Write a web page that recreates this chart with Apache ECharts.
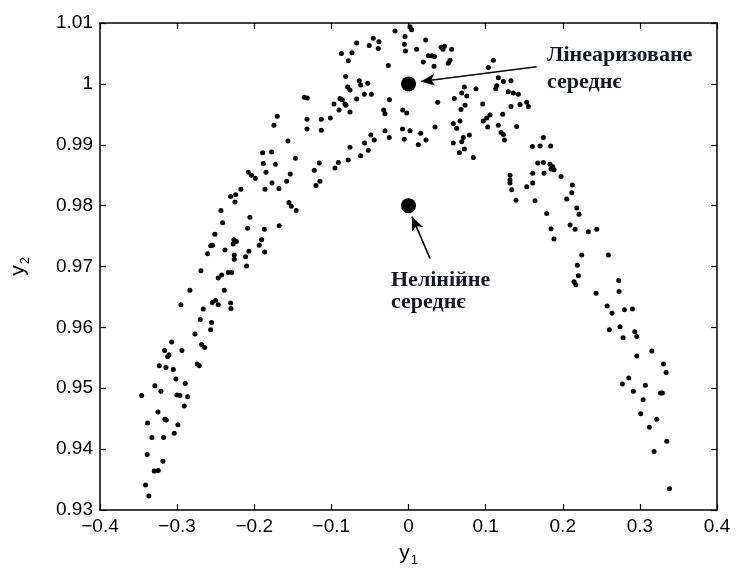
<!DOCTYPE html>
<html>
<head>
<meta charset="utf-8">
<script src="https://cdn.jsdelivr.net/npm/echarts@6/dist/echarts.min.js"></script>
<style>html,body{margin:0;padding:0;background:#fff}#c{width:737px;height:572px}</style>
</head>
<body>
<div id="c"></div>
<script>
// ---- data ----
const y1Values = [
-0.346,-0.3383,-0.3327,-0.3388,-0.3409,-0.3366,-0.3297,-0.3245,-0.3184,-0.3175,
-0.3249,-0.3158,-0.3141,-0.3038,-0.299,-0.3288,-0.321,-0.3232,-0.3145,-0.3162,
-0.3123,-0.3106,-0.3071,-0.305,-0.3016,-0.3003,-0.2964,-0.2895,-0.2864,-0.2908,
-0.2938,-0.2951,-0.2834,-0.2769,-0.2739,-0.2713,-0.2682,-0.2643,-0.27,-0.2661,
-0.2691,-0.2565,-0.2553,-0.2545,-0.2501,-0.2467,-0.2389,-0.2306,-0.2302,-0.2467,
-0.2423,-0.2337,-0.2293,-0.2604,-0.238,-0.2259,-0.2259,-0.2112,-0.2099,-0.2069,
-0.1865,-0.2565,-0.254,-0.251,-0.241,-0.2432,-0.2263,-0.2231,-0.2272,-0.2056,
-0.2086,-0.1904,-0.1935,-0.1868,-0.1676,-0.2306,-0.2241,-0.225,-0.2173,-0.2075,
-0.2036,-0.1987,-0.1861,-0.1883,-0.1891,-0.1774,-0.1725,-0.1848,-0.177,-0.168,
-0.158,-0.1533,-0.1466,-0.1563,-0.155,-0.152,-0.1457,-0.1744,-0.1702,-0.1351,
-0.1313,-0.1316,-0.1316,-0.1131,-0.1131,-0.1014,-0.0966,-0.0901,-0.0888,-0.0859,
-0.0824,-0.0811,-0.0759,-0.0672,-0.0815,-0.0789,-0.0759,-0.0638,-0.062,-0.0529,
-0.0573,-0.0482,-0.1222,-0.1157,-0.12,-0.1148,-0.0953,-0.091,-0.0782,-0.0759,
-0.062,-0.0569,-0.0521,-0.0489,-0.0444,-0.0305,-0.025,-0.0322,-0.0305,-0.0246,
-0.0262,-0.087,-0.0733,-0.0781,-0.0672,-0.051,-0.0457,-0.0383,-0.0392,-0.0175,
-0.0045,-0.0054,-0.0039,-0.0078,-0.0054,-0.0075,-0.0023,0.0019,
0.0019,0.0041,0.0223,0.0106,0.0422,0.0447,0.0467,0.056,0.0257,0.0301,
0.0335,0.0192,0.0331,0.0538,0.0516,0.11,0.1035,0.1165,0.123,0.1329,
0.0724,0.0875,0.1131,0.1144,0.069,0.0755,0.0594,0.0379,0.0962,0.0733,
0.0681,0.1294,0.1359,0.1424,0.1446,0.1329,0.1533,0.1554,0.1222,0.1057,
0.1014,0.097,0.1165,0.1027,0.0668,0.0581,0.0625,0.0344,0.1403,0.12,
0.123,0.0789,0.0711,0.069,0.0581,0.0724,0.0659,0.084,0.0158,0.0227,
0.0127,0.1243,
0.1748,0.1606,0.1706,0.1844,0.1676,0.1748,0.1835,0.187,0.1887,0.1611,
0.1757,0.1848,0.1978,0.1316,0.1316,0.1316,0.1339,0.1533,0.1611,0.1394,
0.1641,0.2125,0.2117,0.2052,0.1792,0.2182,0.2211,0.1848,0.1887,0.2095,
0.216,0.2332,0.2441,0.2246,0.2591,0.2189,0.2202,0.2147,0.2169,0.2432,
0.2726,0.273,0.2575,0.2639,0.2799,0.2903,0.2604,0.2743,0.2782,0.2934,
0.296,0.3154,0.296,0.3305,0.334,0.2856,0.2773,0.3071,0.2916,0.3292,
0.3268,0.3042,0.3012,0.3123,0.3219,0.3349,0.3184,0.3383
];
const y2Values = [
0.9488,0.9443,0.9419,0.9391,0.9341,0.9323,0.9364,0.9365,0.938,0.9419,
0.9461,0.9449,0.9448,0.9426,0.944,0.9504,0.9495,0.9537,0.9534,0.9562,
0.9552,0.9555,0.9576,0.9531,0.9515,0.9489,0.9488,0.9508,0.9486,0.9471,
0.9562,0.9637,0.9661,0.9589,0.954,0.9537,0.9572,0.9567,0.9613,0.963,
0.9693,0.9596,0.9608,0.9641,0.9644,0.9637,0.9661,0.964,0.9631,0.9681,
0.9686,0.969,0.969,0.9721,0.9727,0.9719,0.9712,0.9716,0.9701,0.9725,
0.9724,0.9734,0.9735,0.9753,0.9772,0.9792,0.9744,0.9741,0.9737,0.9781,
0.9763,0.9744,0.9735,0.9761,0.9767,0.9815,0.9818,0.9806,0.9827,0.9855,
0.985,0.9845,0.9827,0.9869,0.9887,0.9888,0.9868,0.9855,0.9837,0.9828,
0.984,0.9852,0.9878,0.9906,0.9805,0.9799,0.9792,0.9932,0.9947,0.9978,
0.9977,0.9942,0.9926,0.9942,0.9924,0.9944,0.9967,0.9957,0.9976,0.9974,
0.9967,0.9965,0.9954,0.9975,1.0012,0.9995,0.999,1.0005,0.9998,1.0001,
0.9983,0.9983,0.9858,0.987,0.9833,0.984,0.9862,0.9871,0.9875,0.9896,
0.9882,0.9903,0.9891,0.9916,0.9908,0.9923,0.9912,0.9957,0.9951,0.9974,
1.003,1.005,1.0051,1.0038,1.0067,1.0063,1.0075,1.0069,1.0058,1.0087,
1.0078,1.0065,1.0054,0.9926,0.9909,0.9957,0.9952,0.9923,
1.0094,1.0089,1.0072,1.0057,1.006,1.0057,1.0062,1.0057,1.0046,1.0046,
1.0045,1.0036,1.0029,1.0039,1.0034,1.0039,1.0027,1.001,1.0004,1.0005,
0.9995,0.9992,0.9992,0.9997,0.9985,0.998,0.9976,0.997,0.9967,0.9965,
0.9958,0.9987,0.9985,0.9983,0.9966,0.9963,0.997,0.9963,0.995,0.9949,
0.9944,0.9939,0.9932,0.9929,0.9939,0.9935,0.9927,0.9929,0.993,0.992,
0.9917,0.9916,0.9912,0.9905,0.9903,0.9893,0.9887,0.9879,0.9919,0.9908,
0.99,0.9908,
0.9912,0.9897,0.9898,0.9898,0.987,0.9871,0.9868,0.9864,0.9859,0.9853,
0.9853,0.986,0.9848,0.985,0.9842,0.9837,0.9826,0.9831,0.9837,0.9809,
0.9808,0.9834,0.9821,0.9811,0.9787,0.9796,0.9786,0.9762,0.9745,0.9768,
0.9761,0.9757,0.9761,0.9719,0.9719,0.9702,0.9685,0.9675,0.967,0.9656,
0.9677,0.9659,0.9635,0.9623,0.9629,0.963,0.9596,0.9601,0.9583,0.9593,
0.9585,0.9561,0.9553,0.954,0.9526,0.9517,0.9507,0.9505,0.9495,0.9492,
0.9492,0.9481,0.9458,0.9436,0.9449,0.9413,0.9396,0.9335
];
const meanNames = ['Лінеаризоване середнє', 'Нелінійне середнє'];
const meanY1 = [0, 0];
const meanY2 = [1.0, 0.98];
const xTicks = [-0.4, 0.4, 0.1];   // min, max, interval
const yTicks = [0.93, 1.01, 0.01]; // min, max, interval

// ---- chart ----
const pts = y1Values.map((v, i) => [v, y2Values[i]]);
const means = meanY1.map((v, i) => ({ name: meanNames[i], value: [v, meanY2[i]] }));
const font = '"Liberation Sans", Arial, sans-serif';
const serif = '"Liberation Serif", "DejaVu Serif", serif';
const fmtX = v => { const s = String(Number(v.toFixed(1))); return s.replace('-', '\u2212'); };
const fmtY = v => String(Number(v.toFixed(2)));
const axisLine = { show: true, onZero: false, lineStyle: { color: '#000', width: 1.5 } };
const tick = { show: true, inside: true, length: 6, lineStyle: { color: '#000', width: 1.2 } };
const lbl = { color: '#000', fontFamily: font, fontSize: 19 };
const nameRich = { rich: { a: { fontFamily: font, fontSize: 21, color: '#000' },
                           b: { fontFamily: font, fontSize: 13, color: '#000', padding: [14, 0, 0, 1] } } };

const chart = echarts.init(document.getElementById('c'), null, { renderer: 'canvas' });
chart.setOption({
  animation: false,
  backgroundColor: '#fff',
  grid: { left: 100, right: 20, top: 23, bottom: 62, containLabel: false },
  xAxis: [
    { type: 'value', min: xTicks[0], max: xTicks[1], interval: xTicks[2], position: 'bottom',
      axisLine, axisTick: tick, splitLine: { show: false },
      axisLabel: Object.assign({ formatter: fmtX, margin: 7 }, lbl),
      name: '{a|y}{b|1}', nameLocation: 'middle', nameGap: 30, nameTextStyle: nameRich },
    { type: 'value', min: xTicks[0], max: xTicks[1], interval: xTicks[2], position: 'top',
      axisLine, axisTick: tick, axisLabel: { show: false }, splitLine: { show: false } }
  ],
  yAxis: [
    { type: 'value', min: yTicks[0], max: yTicks[1], interval: yTicks[2], position: 'left',
      axisLine, axisTick: tick, splitLine: { show: false },
      axisLabel: Object.assign({ formatter: fmtY, margin: 7 }, lbl),
      name: '{a|y}{b|2}', nameLocation: 'middle', nameGap: 68, nameRotate: 90, nameTextStyle: nameRich },
    { type: 'value', min: yTicks[0], max: yTicks[1], interval: yTicks[2], position: 'right',
      axisLine, axisTick: tick, axisLabel: { show: false }, splitLine: { show: false } }
  ],
  series: [
    { type: 'scatter', data: pts, symbol: 'circle', symbolSize: 5,
      itemStyle: { color: '#000', opacity: 1 }, silent: true },
    { type: 'scatter', data: means, symbol: 'circle', symbolSize: 15,
      itemStyle: { color: '#000', opacity: 1 }, silent: true, z: 5,
      markLine: {
        silent: true, symbol: ['none', 'arrow'], symbolSize: [9, 14],
        label: { show: false },
        lineStyle: { color: '#000', width: 1.6, type: 'solid', opacity: 1 },
        data: [
          [{ coord: [0.166, 1.0028] }, { coord: [0.016, 1.0004] }],
          [{ coord: [0.028, 0.9713] }, { coord: [0.0045, 0.9782] }]
        ]
      } }
  ],
  graphic: [
    { type: 'text', left: 547, top: 42,
      style: { text: 'Лінеаризоване\nсереднє', fontFamily: serif, fontSize: 22, fontWeight: 'bold',
               fontStyle: 'normal', fill: '#15152a', lineHeight: 27 } },
    { type: 'text', left: 391, top: 269,
      style: { text: 'Нелінійне\nсереднє', fontFamily: serif, fontSize: 22, fontWeight: 'bold',
               fontStyle: 'normal', fill: '#15152a', lineHeight: 22 } }
  ]
});
</script>
</body>
</html>
